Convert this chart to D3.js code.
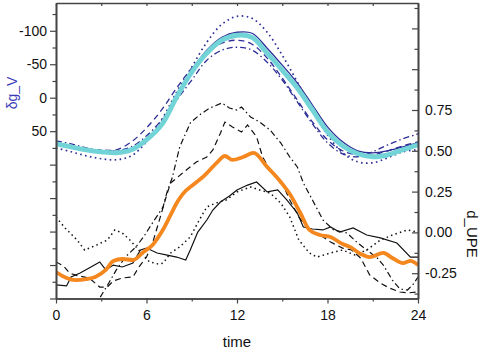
<!DOCTYPE html>
<html>
<head>
<meta charset="utf-8">
<script src="https://cdn.jsdelivr.net/npm/d3@7"></script>
<style>
body { margin: 0; background: #fff; }
text { font-family: "Liberation Sans", Arial, sans-serif; }
</style>
</head>
<body>
<div id="chart"></div>
<script>
// hourly values of δg_V (left axis, reversed)
const hours = [0, 1, 2, 3, 4, 5, 6, 7, 8, 9, 10, 11, 12, 13, 14, 15, 16, 17, 18, 19, 20, 21, 22, 23, 24];
const gvMean = [68.9, 73.4, 77.8, 80.8, 82.3, 77.8, 62.9, 40.6, -1.0, -38.2, -66.5, -85.9, -93.3, -90.3, -66.5, -41.2, -14.4, 18.3, 51.0, 71.9, 83.8, 88.2, 85.3, 77.8, 70.4];
const gvSolid = [68.9, 73.4, 77.8, 80.8, 82.3, 77.8, 62.9, 39.1, -2.5, -41.2, -71.0, -90.3, -97.8, -96.3, -74.0, -48.7, -21.9, 10.9, 43.6, 65.9, 79.3, 82.3, 79.3, 73.4, 67.4];
const gvDotted = [74.9, 80.8, 86.8, 91.2, 92.7, 86.8, 65.9, 33.2, -8.5, -45.7, -82.9, -109.7, -121.6, -118.6, -97.8, -63.5, -23.4, 18.3, 55.5, 82.3, 95.7, 97.2, 89.7, 80.8, 77.8];
const gvDashed = [67.4, 71.9, 76.3, 77.8, 77.8, 65.9, 45.1, 18.3, -14.4, -44.2, -66.5, -81.4, -85.9, -79.9, -59.1, -29.3, 3.4, 36.2, 62.9, 79.3, 85.3, 85.3, 79.3, 71.9, 65.9];
const gvDashDot = [64.4, 68.9, 74.9, 79.3, 79.3, 73.4, 57.0, 33.2, 3.4, -26.3, -56.1, -71.0, -75.4, -71.0, -53.1, -26.3, 6.4, 39.1, 67.4, 83.8, 88.2, 80.8, 70.4, 61.5, 54.0];

// d_UPE series (right axis), [time, value]
const upeMean = [[0, -0.243], [0.7, -0.279], [1.3, -0.292], [2, -0.286], [2.6, -0.273], [3.3, -0.230], [3.8, -0.175], [4.4, -0.163], [5.1, -0.169], [5.8, -0.120], [6.4, -0.077], [7, 0.002], [7.6, 0.107], [8, 0.180], [8.4, 0.235], [9.2, 0.300], [9.8, 0.345], [10.7, 0.431], [11.2, 0.468], [11.7, 0.444], [12.4, 0.462], [13.1, 0.487], [14, 0.401], [14.9, 0.309], [15.5, 0.235], [16.2, 0.119], [16.8, 0.015], [17.5, -0.016], [18.2, -0.028], [19, -0.071], [19.5, -0.089], [20.2, -0.132], [20.8, -0.151], [21.7, -0.126], [22.3, -0.157], [23, -0.188], [23.5, -0.175], [24, -0.200]];
const upeSolid = [[0, -0.322], [0.7, -0.328], [1, -0.273], [1.6, -0.249], [2.2, -0.218], [2.9, -0.181], [3.3, -0.230], [3.8, -0.200], [4.4, -0.212], [5.1, -0.188], [5.6, -0.108], [6, -0.096], [6.7, -0.126], [7.3, -0.138], [8, -0.151], [8.6, -0.169], [8.9, -0.108], [9.4, 0.002], [10, 0.076], [10.4, 0.137], [10.9, 0.186], [11.5, 0.223], [12, 0.260], [12.7, 0.290], [13.3, 0.309], [14, 0.248], [14.7, 0.260], [15.3, 0.199], [16, 0.119], [16.4, 0.033], [17, 0.021], [17.7, 0.015], [18.2, 0.033], [18.8, 0.002], [19.7, 0.027], [20.6, -0.016], [21.5, -0.034], [22.6, -0.065], [23.5, -0.151], [24, -0.151]];
const upeDotted = [[0, 0.094], [0.6, 0.027], [1.4, -0.047], [1.9, -0.108], [2.7, -0.077], [3.4, -0.047], [3.9, 0.015], [4.4, -0.004], [4.9, -0.047], [5.6, -0.120], [6.2, -0.181], [6.8, -0.194], [7.1, -0.188], [7.6, -0.126], [8.2, -0.089], [8.9, -0.028], [9.5, 0.076], [10, 0.156], [10.6, 0.180], [11.3, 0.199], [12, 0.248], [12.9, 0.278], [13.5, 0.260], [14.2, 0.241], [14.9, 0.180], [15.5, 0.094], [16.1, -0.047], [16.8, -0.126], [17.3, -0.151], [18.2, -0.126], [19, -0.108], [19.8, -0.138], [20.6, -0.108], [21.5, -0.047], [22.3, -0.016], [23.3, 0.015], [24, 0.002]];
const upeDashed = [[0, -0.181], [0.5, -0.206], [0.9, -0.249], [1.5, -0.267], [2.2, -0.279], [2.9, -0.335], [3.4, -0.335], [3.8, -0.298], [4.4, -0.279], [5.1, -0.273], [5.5, -0.212], [6, -0.151], [6.4, -0.065], [6.8, 0.058], [7.3, 0.217], [7.6, 0.303], [8, 0.333], [8.4, 0.364], [9.3, 0.431], [10, 0.462], [10.4, 0.505], [10.9, 0.608], [11.2, 0.676], [11.7, 0.646], [12.3, 0.615], [12.7, 0.658], [13.3, 0.585], [13.7, 0.462], [14.2, 0.383], [14.9, 0.321], [15.5, 0.199], [16.1, 0.094], [16.8, 0.015], [17.5, -0.016], [18.2, -0.059], [19, -0.096], [19.6, -0.108], [20.2, -0.157], [20.8, -0.261], [21.5, -0.310], [22.1, -0.341], [22.8, -0.365], [23.3, -0.371], [24, -0.365]];
const upeDashDot = [[0, -0.488], [1, -0.525], [2, -0.500], [2.7, -0.433], [3.1, -0.371], [3.5, -0.310], [4, -0.230], [4.6, -0.151], [5.3, -0.089], [5.8, -0.028], [6.4, 0.058], [7.1, 0.156], [7.4, 0.260], [7.7, 0.333], [8.2, 0.523], [8.9, 0.670], [9.5, 0.719], [10.2, 0.762], [11, 0.793], [11.5, 0.762], [12, 0.750], [12.3, 0.768], [12.9, 0.707], [13.5, 0.676], [14.2, 0.627], [14.9, 0.548], [15.5, 0.462], [16, 0.401], [16.4, 0.303], [17, 0.199], [17.7, 0.076], [18.4, 0.015], [19.3, -0.004], [20, -0.065], [20.6, -0.108], [21.3, -0.157], [21.7, -0.200], [22.3, -0.292], [22.8, -0.347], [23.3, -0.353], [23.7, -0.316], [24, -0.273]];

const timeMajor = [0, 6, 12, 18, 24];
const timeMinor = [3, 9, 15, 21];
const gvMajor = [-100, -50, 0, 50, 100, 150, 200, 250, 300];
const gvMinor = [-125, -75, -25, 25, 75, 125, 175, 225, 275];
const gvLabels = [-100, -50, 0, 50];
const upeMajor = [-0.25, 0, 0.25, 0.5, 0.75, 1.0, 1.25];
const upeMinor = [-0.375, -0.125, 0.125, 0.375, 0.625, 0.875, 1.125, 1.375];
const upeLabels = [-0.25, 0, 0.25, 0.5, 0.75];

const navy = "#2d2d96";
const axisColor = "#444";

const svg = d3.select("#chart").append("svg")
    .attr("width", 484)
    .attr("height", 351);

const x = d3.scaleLinear().domain([0, 24]).range([56, 418]);
const yLeft = d3.scaleLinear().domain([-141.5, 300]).range([3, 298.5]);
const yRight = d3.scaleLinear().domain([1.4056, -0.405]).range([3, 298.5]);

svg.append("clipPath").attr("id", "plot")
    .append("rect")
        .attr("x", 56).attr("y", 3)
        .attr("width", 362).attr("height", 295.5);

const lines = svg.append("g").attr("clip-path", "url(#plot)");

const gvLine = d3.line()
    .x((d, i) => x(hours[i]))
    .y(d => yLeft(d))
    .curve(d3.curveCatmullRom);

const upeLine = d3.line()
    .x(d => x(d[0]))
    .y(d => yRight(d[1]));

// upper group, δg_V
[
    [gvDotted, "1.6,3.4", 1.7],
    [gvDashDot, "6,3,1.5,3", 1.3],
    [gvDashed, "6,4", 1.3],
    [gvSolid, null, 1.3]
].forEach(function(s) {
    lines.append("path")
        .attr("d", gvLine(s[0]))
        .attr("fill", "none")
        .attr("stroke", navy)
        .attr("stroke-width", s[2])
        .attr("stroke-dasharray", s[1]);
});
lines.append("path")
    .attr("d", gvLine(gvMean))
    .attr("fill", "none")
    .attr("stroke", "#72d4d6")
    .attr("stroke-width", 4.8);

// lower group, d_UPE
[
    [upeDotted, "1.5,3.2", 1.5],
    [upeDashDot, "6,3,1.5,3", 1.2],
    [upeDashed, "6,4", 1.2],
    [upeSolid, null, 1.2]
].forEach(function(s) {
    lines.append("path")
        .attr("d", upeLine(s[0]))
        .attr("fill", "none")
        .attr("stroke", "#111")
        .attr("stroke-width", s[2])
        .attr("stroke-dasharray", s[1]);
});
lines.append("path")
    .attr("d", upeLine.curve(d3.curveMonotoneX)(upeMean))
    .attr("fill", "none")
    .attr("stroke", "#f5871f")
    .attr("stroke-width", 3.8)
    .attr("stroke-linejoin", "round");

// axes
function styleAxis(g) {
    g.select(".domain").attr("stroke", axisColor).attr("stroke-width", 1.6);
    g.selectAll(".tick line").attr("stroke", axisColor).attr("stroke-width", 1.2);
    g.selectAll(".tick text").attr("fill", "#111").style("font-size", "14px")
        .style("font-family", "'Liberation Sans', Arial, sans-serif");
}

svg.append("g").attr("transform", "translate(56,0)")
    .call(d3.axisLeft(yLeft).tickValues(gvMinor).tickSize(3.5).tickSizeOuter(0).tickFormat(""))
    .call(styleAxis);
svg.append("g").attr("transform", "translate(56,0)")
    .call(d3.axisLeft(yLeft).tickValues(gvMajor).tickSize(6).tickSizeOuter(0).tickPadding(3)
        .tickFormat(d => gvLabels.includes(d) ? String(d) : ""))
    .call(styleAxis);

svg.append("g").attr("transform", "translate(418,0)")
    .call(d3.axisRight(yRight).tickValues(upeMinor).tickSize(-3.5).tickSizeOuter(0).tickFormat(""))
    .call(styleAxis);
svg.append("g").attr("transform", "translate(418,0)")
    .call(d3.axisRight(yRight).tickValues(upeMajor).tickSize(-6).tickSizeOuter(0).tickPadding(7)
        .tickFormat(d => upeLabels.includes(d) ? d.toFixed(2) : ""))
    .call(styleAxis);

svg.append("g").attr("transform", "translate(0,298.5)")
    .call(d3.axisBottom(x).tickValues(timeMinor).tickSize(3).tickSizeOuter(0).tickFormat(""))
    .call(styleAxis);
svg.append("g").attr("transform", "translate(0,298.5)")
    .call(d3.axisBottom(x).tickValues(timeMajor).tickSize(5).tickSizeOuter(0).tickPadding(6.5))
    .call(styleAxis);

svg.append("g").attr("transform", "translate(0,3)")
    .call(d3.axisTop(x).tickValues(timeMajor.concat(timeMinor)).tickSize(-3).tickSizeOuter(0).tickFormat(""))
    .call(styleAxis);

// axis titles
svg.append("text")
    .attr("transform", "translate(17,93) rotate(-90)")
    .attr("text-anchor", "middle")
    .attr("fill", "#3a3ab8")
    .style("font-size", "14px")
    .text("δg_V");
svg.append("text")
    .attr("transform", "translate(467,234) rotate(90)")
    .attr("text-anchor", "middle")
    .attr("fill", "#111")
    .style("font-size", "15px")
    .text("d_UPE");
svg.append("text")
    .attr("x", 237)
    .attr("y", 347)
    .attr("text-anchor", "middle")
    .attr("fill", "#111")
    .style("font-size", "15px")
    .text("time");
</script>
</body>
</html>
